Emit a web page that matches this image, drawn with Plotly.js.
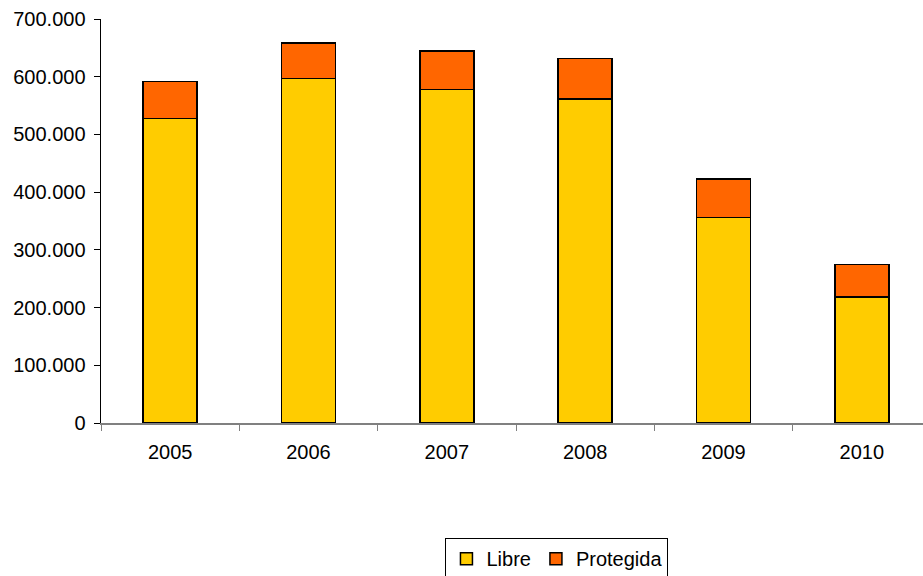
<!DOCTYPE html>
<html><head><meta charset="utf-8">
<script src="https://cdn.plot.ly/plotly-3.0.1.min.js"></script>
<style>html,body{margin:0;padding:0;overflow:hidden;background:#fff;}#chart{width:935px;height:576px;}</style>
</head><body><div id="chart"></div>
<script>
var years = ['2005','2006','2007','2008','2009','2010'];
var libre = [527500, 597000, 578000, 561000, 356000, 218000];
var protegida = [64500, 61600, 66700, 70500, 67000, 57000];
var yTicks = [0,100000,200000,300000,400000,500000,600000,700000];

var traces = [
  {type:'bar', name:'Libre', x:years, y:libre, marker:{color:'#FFCC00', line:{color:'#000', width:1.5}}},
  {type:'bar', name:'Protegida', x:years, y:protegida, marker:{color:'#FF6600', line:{color:'#000', width:1.5}}}
];
var layout = {
  width:935, height:576,
  margin:{l:101, r:4, t:19, b:153, autoexpand:false},
  barmode:'stack', bargap:0.61,
  separators:',.',
  paper_bgcolor:'#fff', plot_bgcolor:'#fff',
  font:{family:'Liberation Sans, Arial, sans-serif', size:20, color:'#000'},
  xaxis:{type:'category', automargin:false, showline:true, linecolor:'#808080', linewidth:1.5, ticks:'outside', tickson:'boundaries', ticklen:6, tickcolor:'#808080', showgrid:false, tickfont:{size:20}, ticklabelstandoff:10},
  yaxis:{range:[0,700000], automargin:false, tickvals:yTicks, tickformat:',d', showline:true, linecolor:'#000', linewidth:1.5, ticks:'outside', ticklen:6, tickcolor:'#000', showgrid:false, zeroline:false, tickfont:{size:20}, ticklabelstandoff:4},
  showlegend:true,
  legend:{orientation:'h', x:0.415, xanchor:'left', y:-0.285, yanchor:'top', traceorder:'normal', itemwidth:30, bordercolor:'#000', borderwidth:1, bgcolor:'#fff', font:{size:20}}
};
Plotly.newPlot('chart', traces, layout, {displayModeBar:false, staticPlot:true});
</script></body></html>
